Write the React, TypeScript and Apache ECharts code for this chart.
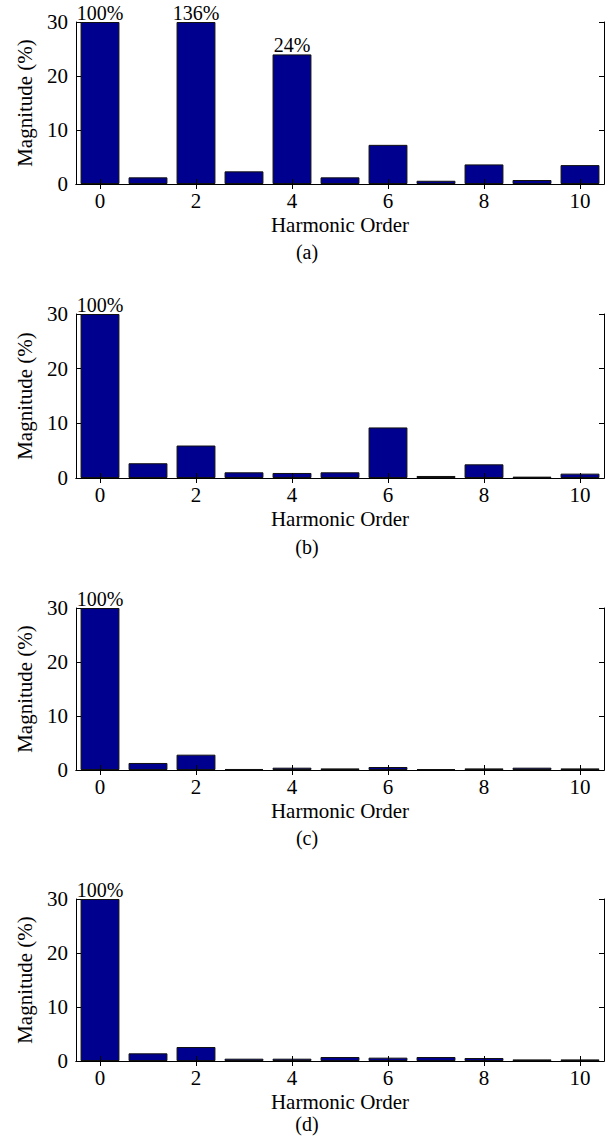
import React, { useEffect, useRef } from "react";
import * as echarts from "echarts";

const categories = ["0", "1", "2", "3", "4", "5", "6", "7", "8", "9", "10"];
const xTickLabels = ["0", "", "2", "", "4", "", "6", "", "8", "", "10"];
const yTicks = [0, 10, 20, 30];

const panelA = [100, 1.23, 136, 2.34, 24, 1.23, 7.25, 0.6, 3.63, 0.74, 3.5];
const panelB = [100, 2.7, 5.94, 1.04, 0.92, 1.04, 9.25, 0.37, 2.5, 0.25, 0.8];
const panelC = [100, 1.3, 2.84, 0.19, 0.43, 0.3, 0.55, 0.18, 0.3, 0.43, 0.3];
const panelD = [100, 1.42, 2.59, 0.43, 0.43, 0.74, 0.62, 0.74, 0.55, 0.3, 0.3];

const labelsA = ["100%", "", "136%", "", "24%", "", "", "", "", "", ""];
const labelsB = ["100%", "", "", "", "", "", "", "", "", "", ""];
const labelsC = ["100%", "", "", "", "", "", "", "", "", "", ""];
const labelsD = ["100%", "", "", "", "", "", "", "", "", "", ""];

const captions = ["(a)", "(b)", "(c)", "(d)"];
const xName = "Harmonic Order";
const yName = "Magnitude (%)";

const panels = [
  { values: panelA, labels: labelsA },
  { values: panelB, labels: labelsB },
  { values: panelC, labels: labelsC },
  { values: panelD, labels: labelsD },
];

const FONT = '"Liberation Serif", "DejaVu Serif", "Times New Roman", serif';
const W = 611;
const H = 1139;
const gridTops = [22, 314, 608, 899];
const gridHeight = [162, 164, 162, 162];
const captionY = [252, 547, 838, 1124];
const BAR = "#00008F";

export default function App() {
  const ref = useRef<HTMLDivElement>(null);
  useEffect(() => {
    if (!ref.current) return;
    const chart = echarts.init(ref.current, undefined, { renderer: "svg" });
    const yMax = yTicks[yTicks.length - 1];
    const yMin = yTicks[0];
    const interval = yTicks[1] - yTicks[0];

    const grid: any[] = [];
    const xAxis: any[] = [];
    const yAxis: any[] = [];
    const series: any[] = [];
    const graphic: any[] = [];

    panels.forEach((p, i) => {
      grid.push({ left: 76, right: 7, top: gridTops[i], height: gridHeight[i], containLabel: false });
      const lineStyle = { color: "#000", width: 1 };
      xAxis.push({
        type: "category",
        gridIndex: i,
        data: categories,
        position: "bottom",
        boundaryGap: true,
        axisLine: { show: true, lineStyle },
        axisTick: { show: true, inside: true, length: 5, interval: 1, alignWithLabel: true, lineStyle },
        axisLabel: {
          interval: 0,
          formatter: (v: string, idx: number) => xTickLabels[idx],
          color: "#000",
          fontFamily: FONT,
          fontSize: 21,
          margin: 6,
        },
        name: xName,
        nameLocation: "middle",
        nameGap: 30,
        nameTextStyle: { color: "#000", fontFamily: FONT, fontSize: 21 },
        splitLine: { show: false },
        z: 10,
      });
      xAxis.push({
        type: "category",
        gridIndex: i,
        data: categories,
        position: "top",
        boundaryGap: true,
        axisLine: { show: true, lineStyle },
        axisTick: { show: true, inside: true, length: 5, interval: 1, alignWithLabel: true, lineStyle },
        axisLabel: { show: false },
        splitLine: { show: false },
        z: 10,
      });
      yAxis.push({
        type: "value",
        gridIndex: i,
        min: yMin,
        max: yMax,
        interval,
        position: "left",
        axisLine: { show: true, lineStyle },
        axisTick: { show: true, inside: true, length: 5, lineStyle },
        axisLabel: { color: "#000", fontFamily: FONT, fontSize: 21, margin: 8 },
        name: yName,
        nameLocation: "middle",
        nameGap: 41,
        nameTextStyle: { color: "#000", fontFamily: FONT, fontSize: 21 },
        splitLine: { show: false },
        z: 10,
      });
      yAxis.push({
        type: "value",
        gridIndex: i,
        min: yMin,
        max: yMax,
        interval,
        position: "right",
        axisLine: { show: true, lineStyle },
        axisTick: { show: true, inside: true, length: 5, lineStyle },
        axisLabel: { show: false },
        splitLine: { show: false },
        z: 10,
      });
      series.push({
        type: "bar",
        xAxisIndex: 2 * i,
        yAxisIndex: 2 * i,
        barCategoryGap: "19%",
        itemStyle: { color: BAR, borderColor: "#111", borderWidth: 1 },
        label: {
          show: false,
          position: "top",
          distance: -1,
          color: "#000",
          fontFamily: FONT,
          fontSize: 20,
        },
        data: p.values.map((v, j) => ({
          value: Math.min(v, yMax),
          label: p.labels[j] ? { show: true, formatter: p.labels[j] } : { show: false },
        })),
      });
      graphic.push({
        type: "text",
        x: 307,
        y: captionY[i],
        style: {
          text: captions[i],
          fill: "#000",
          font: `20px ${FONT}`,
          textAlign: "center",
          textVerticalAlign: "middle",
        },
      });
    });

    chart.setOption({
      animation: false,
      backgroundColor: "#fff",
      grid,
      xAxis,
      yAxis,
      series,
      graphic,
    });
    return () => chart.dispose();
  }, []);
  return (
    <div
      ref={ref}
      style={{ position: "absolute", left: 0, top: 0, width: W, height: H }}
    />
  );
}
